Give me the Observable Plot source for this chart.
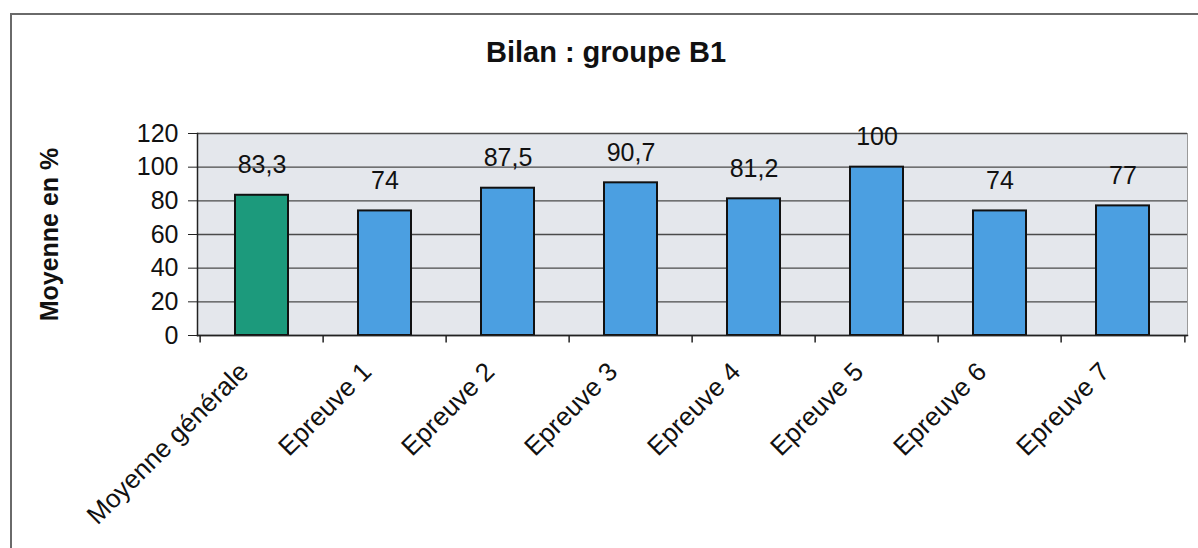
<!DOCTYPE html>
<html>
<head>
<meta charset="utf-8">
<script src="https://cdn.jsdelivr.net/npm/d3@7"></script>
<script src="https://cdn.jsdelivr.net/npm/@observablehq/plot@0.6"></script>
<style>
  body { margin: 0; background: #fff; font-family: "Liberation Sans", Arial, sans-serif; }
  #wrap { position: relative; width: 1198px; height: 548px; overflow: hidden; }
  #border { position: absolute; left: 10px; top: 13px; width: 1300px; height: 700px;
            border-left: 2px solid #6a6a6a; border-top: 2px solid #6a6a6a; pointer-events: none; }
  #title { height: 80px; line-height: 104px; text-align: center; font-weight: bold; font-size: 29px;
           color: #111; padding-left: 14px; box-sizing: border-box; }
  svg text { fill: #111; }
  g[aria-label="y-axis label"] text { font-weight: bold; }
  g[aria-label="y-axis tick label"] { font-size: 25px; }
  g[aria-label="y-axis tick label"] text { font-size: 25px; }
</style>
</head>
<body>
<div id="wrap">
  <div id="border"></div>
  <div id="title">Bilan : groupe B1</div>
  <div id="chart"></div>
</div>
<script>
const categories = ["Moyenne générale", "Epreuve 1", "Epreuve 2", "Epreuve 3", "Epreuve 4", "Epreuve 5", "Epreuve 6", "Epreuve 7"];
const values = [83.3, 74, 87.5, 90.7, 81.2, 100, 74, 77];
const valueLabels = ["83,3", "74", "87,5", "90,7", "81,2", "100", "74", "77"];
const yTicks = [0, 20, 40, 60, 80, 100, 120];

const data = categories.map((c, i) => ({cat: c, value: values[i], label: valueLabels[i], idx: i}));

const W = 1198, H = 468;
const mL = 197, mR = 11, mT = 53, mB = 213;
const step = (W - mL - mR) / categories.length;

const chart = Plot.plot({
  width: W,
  height: H,
  marginLeft: mL,
  marginRight: mR,
  marginTop: mT,
  marginBottom: mB,
  style: {fontFamily: "'Liberation Sans', Arial, sans-serif", fontSize: "25px", color: "#111", background: "transparent", overflow: "visible"},
  x: {domain: categories, paddingInner: 0.57, paddingOuter: 0.285},
  y: {domain: [0, 120]},
  marks: [
    Plot.frame({fill: "#e4e7ec", stroke: null}),
    Plot.gridY(yTicks, {stroke: "#4a4a4a", strokeOpacity: 1, strokeWidth: 1.3}),
    Plot.frame({anchor: "right", stroke: "#9a9a9a", strokeOpacity: 1}),
    Plot.barY(data, {
      x: "cat", y: "value",
      fill: d => d.idx === 0 ? "#1c9a7c" : "#4b9fe1",
      stroke: "#111", strokeWidth: 2
    }),
    Plot.text(data, {
      x: "cat", y: "value", text: "label", dy: -30, lineAnchor: "middle",
      fontSize: 25, fontWeight: d => d.idx === 7 ? "bold" : "normal"
    }),
    Plot.frame({anchor: "left", stroke: "#222", strokeWidth: 1.5}),
    Plot.frame({anchor: "bottom", stroke: "#222", strokeWidth: 1.5}),
    Plot.ruleX(categories, {x: d => d, dx: -step / 2, y1: 0, y2: -4.5, stroke: "#222", strokeWidth: 1.5}),
    Plot.ruleX(categories.slice(-1), {x: d => d, dx: step / 2, y1: 0, y2: -4.5, stroke: "#222", strokeWidth: 1.5}),
    Plot.axisY(yTicks, {
      tickSize: 9, tickPadding: 10, fontSize: 25, stroke: "#222",
      label: "Moyenne en %", labelAnchor: "center", labelArrow: "none", labelOffset: 157
    }),
    Plot.axisX({
      tickSize: 0, tickRotate: -45, tickPadding: 32, dx: -18, fontSize: 26,
      textAnchor: "end", label: null
    })
  ]
});
document.getElementById("chart").appendChild(chart);
</script>
</body>
</html>
